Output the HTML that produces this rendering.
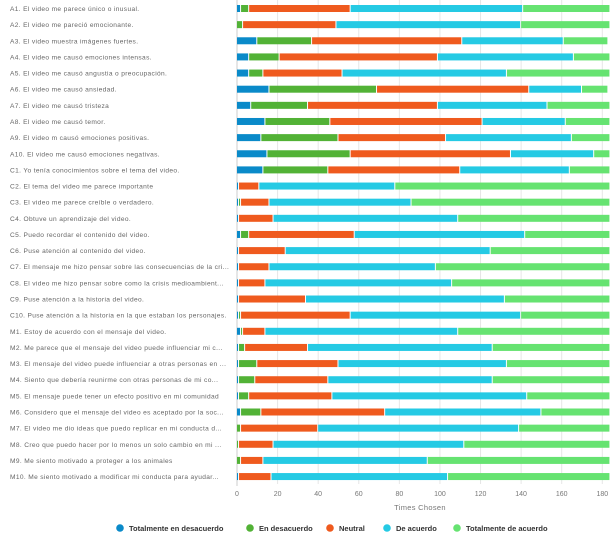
<!DOCTYPE html>
<html><head><meta charset="utf-8">
<style>
html,body{margin:0;padding:0;background:#fff;}
svg{display:block;font-family:"Liberation Sans",sans-serif;}
</style></head>
<body>
<svg id="chart" width="614" height="541" viewBox="0 0 614 541"></svg>
<script>
const categories = [
"A1. El video me parece único o inusual.",
"A2. El video me pareció emocionante.",
"A3. El video muestra imágenes fuertes.",
"A4. El video me causó emociones intensas.",
"A5. El video me causó angustia o preocupación.",
"A6. El video me causó ansiedad.",
"A7. El video me causó tristeza",
"A8. El video me causó temor.",
"A9. El video m causó emociones positivas.",
"A10. El video me causó emociones negativas.",
"C1. Yo tenía conocimientos sobre el tema del video.",
"C2. El tema del video me parece importante",
"C3. El video me parece creíble o verdadero.",
"C4. Obtuve un aprendizaje del video.",
"C5. Puedo recordar el contenido del video.",
"C6. Puse atención al contenido del video.",
"C7. El mensaje me hizo pensar sobre las consecuencias de la cri...",
"C8. El video me hizo pensar sobre como la crisis medioambient...",
"C9. Puse atención a la historia del video.",
"C10. Puse atención a la historia en la que estaban los personajes.",
"M1. Estoy de acuerdo con el mensaje del video.",
"M2. Me parece que el mensaje del video puede influenciar mi c...",
"M3. El mensaje del video puede influenciar a otras personas en ...",
"M4. Siento que debería reunirme con otras personas de mi co...",
"M5. El mensaje puede tener un efecto positivo en mi comunidad",
"M6. Considero que el mensaje del video es aceptado por la soc...",
"M7. El video me dio ideas que puedo replicar en mi conducta d...",
"M8. Creo que puedo hacer por lo menos un solo cambio en mi ...",
"M9. Me siento motivado a proteger a los animales",
"M10. Me siento motivado a modificar mi conducta para ayudar..."
];
const seriesNames = ["Totalmente en desacuerdo","En desacuerdo","Neutral","De acuerdo","Totalmente de acuerdo"];
const totDesacuerdo = [2,0,10,6,6,16,7,14,12,15,13,1,1,1,2,1,1,1,1,1,2,1,1,1,1,2,0,0,0,1];
const enDesacuerdo  = [4,3,27,15,7,53,28,32,38,41,32,0,1,0,4,0,0,0,0,1,1,3,9,8,5,10,2,1,2,0];
const neutral       = [50,46,74,78,39,75,64,75,53,79,65,10,14,17,52,23,15,13,33,54,11,31,40,36,41,61,38,17,11,16];
const deAcuerdo     = [85,91,50,67,81,26,54,41,62,41,54,67,70,91,84,101,82,92,98,84,95,91,83,81,96,77,99,94,81,87];
const totAcuerdo    = [43,44,22,18,51,13,31,22,19,8,20,106,98,75,42,59,86,78,52,44,75,58,51,58,41,34,45,72,90,80];
const xTicks = [0,20,40,60,80,100,120,140,160,180];
const series = [totDesacuerdo,enDesacuerdo,neutral,deAcuerdo,totAcuerdo];
const colors = ["#0a8ac9","#52b236","#ef5a1e","#25cae4","#66e371"];

const NS="http://www.w3.org/2000/svg";
const svg=document.getElementById('chart');
const x0=237, pxPer=(602.3-237)/180;
function xs(v){return x0+v*pxPer;}
const rowTop=8.5, rowStep=16.14;
function ys(i){return rowTop+i*rowStep;}
function mk(tag,attrs,parent){const e=document.createElementNS(NS,tag);for(const k in attrs)e.setAttribute(k,attrs[k]);(parent||svg).appendChild(e);return e;}

xTicks.forEach(t=>{
  const g=mk('line',{x1:xs(t),x2:xs(t),y1:0,y2:484,stroke:'#e6e6e6','stroke-width':1});
  
  
  const tl=mk('text',{x:xs(t),y:496,'text-anchor':'middle','font-size':7,fill:'#777'});
  tl.textContent=t;
  
  
});
const ax=mk('line',{x1:x0,x2:x0,y1:0,y2:486,stroke:'#ccc','stroke-width':1});


const xt=mk('text',{x:420,y:510,'text-anchor':'middle','font-size':7.5,fill:'#777','letter-spacing':'0.3'});
xt.textContent='Times Chosen';



categories.forEach((c,i)=>{
  const y=ys(i);
  const lab=mk('text',{x:10,y:y+2.5,'font-size':6.6,fill:'#666','letter-spacing':'0.35'});
  lab.textContent=c;
  
  
  let acc=0;
  series.forEach((s,k)=>{
    const v=s[i]; if(v<=0){return;}
    const r=mk('rect',{x:xs(acc),y:y-3.5,width:Math.max(xs(acc+v)-xs(acc)-1,0.6),height:7,fill:colors[k]});
    
    
    acc+=v;
  });
});

const legX=[120,250,330,387,457];
seriesNames.forEach((n,k)=>{
  const c=mk('circle',{cx:legX[k],cy:528,r:3.8,fill:colors[k]});
  
  
  const t=mk('text',{x:legX[k]+9,y:531,'font-size':7.5,'font-weight':'bold',fill:'#333'});
  t.textContent=n;
  
  
});
</script>
</body></html>
